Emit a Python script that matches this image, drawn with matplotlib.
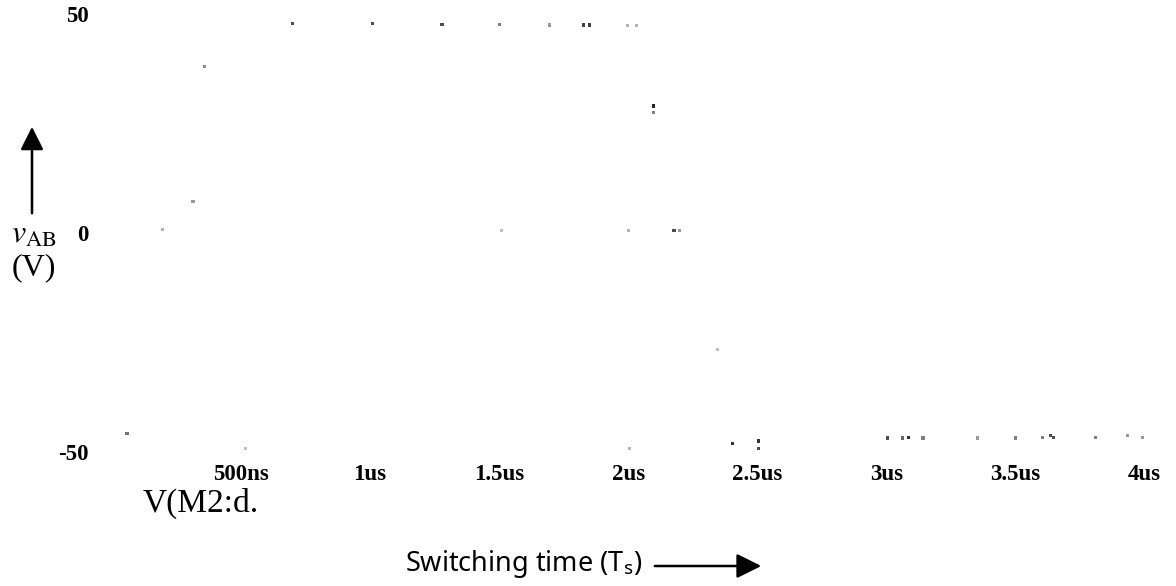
import numpy as np
import matplotlib
matplotlib.use("Agg")
import matplotlib.pyplot as plt
from matplotlib.patches import FancyArrowPatch

# faint trace samples of V(M2:d) left on the printout (time in us, volts)
t_us = [0.058, 0.194, 0.314, 0.357, 0.519, 0.698, 1.008, 1.279, 1.500, 1.508,
        1.694, 1.826, 1.849, 1.996, 2.000, 2.004, 2.031, 2.097, 2.097, 2.178,
        2.198, 2.345, 2.403, 2.504, 2.504, 3.004, 3.062, 3.085, 3.143, 3.353,
        3.500, 3.605, 3.636, 3.647, 3.810, 3.934, 3.992]
v_ab = [-45.7, 0.7, 7.1, 38.1, -49.3, 47.9, 47.9, 47.7, 47.7, 0.5,
        47.5, 47.5, 47.5, 47.3, 0.5, -49.3, 47.3, 29.0, 27.6, 0.5,
        0.5, -26.5, -48.0, -47.5, -49.3, -46.8, -46.8, -46.6, -46.8, -46.8,
        -46.8, -46.6, -46.3, -46.6, -46.6, -46.3, -46.6]
dot_shade = [0.45, 0.7, 0.6, 0.55, 0.75, 0.3, 0.3, 0.3, 0.5, 0.75,
             0.6, 0.25, 0.25, 0.7, 0.7, 0.7, 0.7, 0.15, 0.5, 0.3,
             0.6, 0.75, 0.2, 0.2, 0.3, 0.3, 0.4, 0.2, 0.5, 0.6,
             0.5, 0.5, 0.3, 0.3, 0.5, 0.6, 0.6]

x_ticks = [0.5, 1.0, 1.5, 2.0, 2.5, 3.0, 3.5, 4.0]
x_labels = ["500ns", "1us", "1.5us", "2us", "2.5us", "3us", "3.5us", "4us"]
y_ticks = [-50, 0, 50]
y_labels = ["-50", "0", "50"]

W, H = 1176, 586
fig = plt.figure(figsize=(W / 100, H / 100), dpi=100)
fig.patch.set_facecolor("white")

# axes frame: t=0 at x=112px, 4.1us at 1170px; +50V at 14px, -50V at 452px
ax = fig.add_axes([112 / W, (H - 452) / H, 1058 / W, 438 / H])
ax.set_xlim(0, 4.1)
ax.set_ylim(-50, 50)
for s in ax.spines.values():
    s.set_visible(False)

shades = [(g, g, g) for g in dot_shade]
ax.scatter(t_us, v_ab, s=5, c=shades, marker="s", linewidths=0)

tick_font = dict(family="Liberation Serif", weight="bold", size=16.5)
ax.set_xticks(x_ticks)
ax.set_xticklabels(x_labels, **tick_font)
ax.set_yticks(y_ticks)
ax.set_yticklabels(y_labels, **tick_font)
ax.tick_params(axis="x", length=0, pad=9)
ax.tick_params(axis="y", length=0, pad=17)


def fx(px):
    return px / W


def fy(py):
    return 1 - py / H


plt.rcParams["mathtext.fontset"] = "stix"
arrow_style = "-|>,head_length=1.0,head_width=0.5"

# y-axis caption with upward arrow
fig.add_artist(FancyArrowPatch((fx(32), fy(216)), (fx(32), fy(124)),
                               transform=fig.transFigure, arrowstyle=arrow_style,
                               mutation_scale=14, lw=1.8, color="black"))
fig.text(fx(11), fy(234), r"$v_{\mathrm{AB}}$", fontsize=23, ha="left",
         va="center", color="black")
fig.text(fx(34), fy(268), "(V)", family="Liberation Serif", fontsize=23,
         ha="center", va="center")

fig.text(fx(143), fy(503), "V(M2:d.", family="Liberation Serif", fontsize=24,
         ha="left", va="center")

# x-axis caption with arrow to the right
fig.text(fx(405), fy(564), r"Switching time (T$_{\mathregular{s}}$)",
         family="Noto Sans", fontsize=19.5, ha="left", va="center")
fig.add_artist(FancyArrowPatch((fx(652), fy(566)), (fx(764), fy(566)),
                               transform=fig.transFigure, arrowstyle=arrow_style,
                               mutation_scale=15, lw=1.8, color="black"))

fig.savefig("out.png", dpi=100, facecolor="white")
